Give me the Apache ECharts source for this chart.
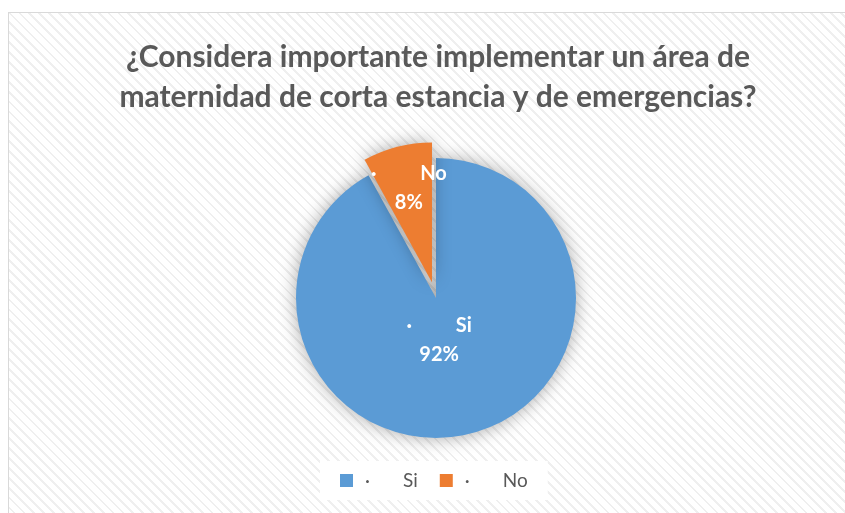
<!DOCTYPE html>
<html><head><meta charset="utf-8">
<script src="https://cdn.jsdelivr.net/npm/echarts@6/dist/echarts.min.js"></script>
<style>
html,body{margin:0;padding:0;background:#fff;}
#frame{position:absolute;left:8px;top:12px;width:845px;height:510px;border:1px solid #d9d9d9;
background:repeating-linear-gradient(45deg,#ffffff 0px,#ffffff 3px,#efefef 3px,#efefef 5px,#ffffff 5px,#ffffff 7px);}
#chart{position:absolute;left:0;top:0;width:845px;height:513px;}
</style></head>
<body><div id="frame"></div><div id="chart"></div>
<script>
const titleLines = ['¿Considera importante implementar un área de', 'maternidad de corta estancia y de emergencias?'];
const categories = ['Si', 'No'];
const values = [92, 8];
const colors = ['#5B9BD5', '#ED7D31'];
const labelShift = [[-15, -29], [-5, -24]];

const chart = echarts.init(document.getElementById('chart'), null, {renderer: 'canvas'});
const data = categories.map((c, i) => ({
  name: c, value: values[i],
  selected: c === 'No',
  itemStyle: {color: colors[i]}
}));
chart.setOption({
  backgroundColor: 'transparent',
  animation: false,
  title: {
    text: titleLines.join('\n'),
    left: 433, top: 32, textAlign: 'center',
    textStyle: {fontFamily: 'Lato', fontWeight: 'bold', fontSize: 30, lineHeight: 40, color: '#595959'}
  },
  legend: {
    data: categories,
    left: 320, top: 461,
    backgroundColor: '#ffffff',
    padding: [10, 20, 10, 20],
    width: 230,
    itemWidth: 13, itemHeight: 13, itemGap: 22,
    icon: 'rect',
    formatter: n => '{d|·}{n|' + n + '}',
    textStyle: {
      color: '#595959', fontFamily: 'Lato', fontSize: 19,
      rich: {
        d: {width: 38, padding: [0, 0, 0, 7], color: '#595959', fontSize: 19, fontFamily: 'Lato'},
        n: {color: '#595959', fontSize: 19, fontFamily: 'Lato'}
      }
    }
  },
  series: [{
    type: 'pie',
    center: [436, 298],
    radius: 140,
    startAngle: 90,
    clockwise: true,
    selectedMode: 'single',
    selectedOffset: 16,
    avoidLabelOverlap: false,
    emphasis: {disabled: true},
    itemStyle: {shadowBlur: 18, shadowColor: 'rgba(0,0,0,0.35)', shadowOffsetX: 0, shadowOffsetY: 0},
    label: {
      show: true, position: 'inside',
      formatter: p => '·         ' + p.name + '\n' + p.percent.toFixed(0) + '%',
      color: '#ffffff', fontFamily: 'Lato', fontWeight: 'bold', fontSize: 20, lineHeight: 29, align: 'center'
    },
    labelLine: {show: false},
    labelLayout: p => ({dx: labelShift[p.dataIndex][0], dy: labelShift[p.dataIndex][1]}),
    data: data
  }]
});
</script></body></html>
